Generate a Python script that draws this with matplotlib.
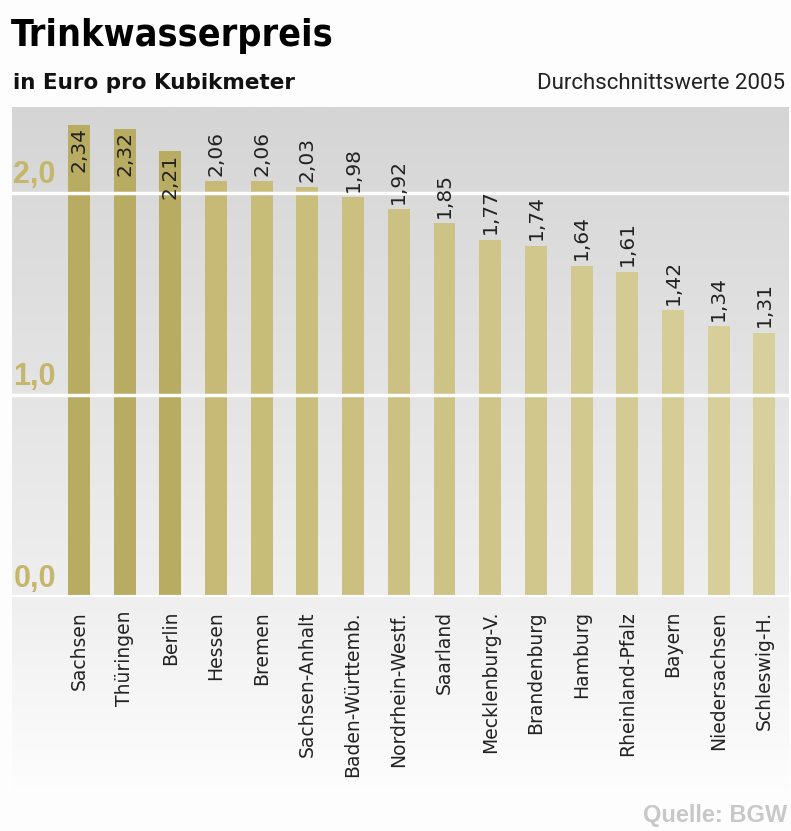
import matplotlib.pyplot as plt
import matplotlib.colors as mcolors
import numpy as np

laender = ['Sachsen', 'Thüringen', 'Berlin', 'Hessen', 'Bremen', 'Sachsen-Anhalt',
           'Baden-Württemb.', 'Nordrhein-Westf.', 'Saarland', 'Mecklenburg-V.',
           'Brandenburg', 'Hamburg', 'Rheinland-Pfalz', 'Bayern', 'Niedersachsen',
           'Schleswig-H.']
preise = [2.34, 2.32, 2.21, 2.06, 2.06, 2.03, 1.98, 1.92, 1.85, 1.77, 1.74, 1.64,
          1.61, 1.42, 1.34, 1.31]
yticks = [0.0, 1.0, 2.0]
ytick_labels = ['0,0', '1,0', '2,0']

W, H = 791, 831
fig = plt.figure(figsize=(W / 100, H / 100), dpi=100, facecolor='#fdfdfd')

# hintergrund unter den beschriftungen
ax_bg = fig.add_axes([12 / W, 1 - 790 / H, 777 / W, (790 - 597) / H])
ax_bg.imshow(np.linspace(0, 1, 100).reshape(-1, 1), aspect='auto',
             cmap=mcolors.LinearSegmentedColormap.from_list('lbl', ['#efefef', '#fdfdfd']),
             extent=[0, 1, 0, 1])
ax_bg.axis('off')

# plotbereich
ax = fig.add_axes([12 / W, 1 - 597 / H, 777 / W, (597 - 107) / H])
x = np.arange(len(laender))
ax.set_xlim(-1.466, 15.54)
ax.set_ylim(0, 2.427)
grad = mcolors.LinearSegmentedColormap.from_list('bg', ['#d5d5d5', '#efefef'])
ax.imshow(np.linspace(0, 1, 200).reshape(-1, 1), aspect='auto', cmap=grad,
          extent=[-1.466, 15.54, 0, 2.427], origin='upper', zorder=0)

# farben: erste drei dunkel, dann heller werdend
dark = np.array(mcolors.to_rgb('#b8ab62'))
c1 = np.array(mcolors.to_rgb('#c6ba76'))
c2 = np.array(mcolors.to_rgb('#d8d09c'))
cols = [dark] * 3 + [c1 + (c2 - c1) * t for t in np.linspace(0, 1, len(laender) - 3)]

ax.bar(x, preise, width=0.48, color=cols, zorder=2)
for yv in [1.0, 2.0]:
    ax.axhline(yv, color='white', lw=2.5, zorder=3)
ax.axhline(0, color='white', lw=3, zorder=3)

for xi, v in zip(x, preise):
    txt = f'{v:.2f}'.replace('.', ',')
    if v > 2.1:
        ax.annotate(txt, (xi, v), xytext=(0, -2), textcoords='offset points',
                    rotation=90, ha='center', va='top', fontsize=14.5, color='#222222', zorder=4)
    else:
        ax.annotate(txt, (xi, v), xytext=(0, 4), textcoords='offset points',
                    rotation=90, ha='center', va='bottom', fontsize=14.5, color='#222222', zorder=4)

for yv, lab in zip(yticks, ytick_labels):
    ax.annotate(lab, (-1.466, yv), xytext=(1, 2), textcoords='offset points',
                ha='left', va='bottom', fontsize=22, fontweight='bold',
                family='Liberation Sans', color='#c4b66c', zorder=4)

ax.set_xticks(x)
ax.set_xticklabels(laender, rotation=90, fontsize=13.5, color='#222222', va='top')
ax.tick_params(axis='x', length=0, pad=10)
ax.set_yticks([])
for s in ax.spines.values():
    s.set_visible(False)

fig.text(11 / W, 1 - 46 / H, 'Trinkwasserpreis', fontsize=27, fontweight='bold',
         family='DejaVu Sans', fontstretch='condensed', va='baseline', ha='left')
fig.text(13 / W, 1 - 89 / H, 'in Euro pro Kubikmeter', fontsize=15.5, fontweight='bold',
         va='baseline', ha='left', color='#111111')
fig.text(785 / W, 1 - 89 / H, 'Durchschnittswerte 2005', fontsize=16, family='Roboto',
         va='baseline', ha='right', color='#222222')
fig.text(787 / W, 1 - 822 / H, 'Quelle: BGW', fontsize=17, fontweight='bold',
         family='Liberation Sans', va='baseline', ha='right', color='#c8c8c8')

fig.savefig('out.png', dpi=100, facecolor=fig.get_facecolor())
